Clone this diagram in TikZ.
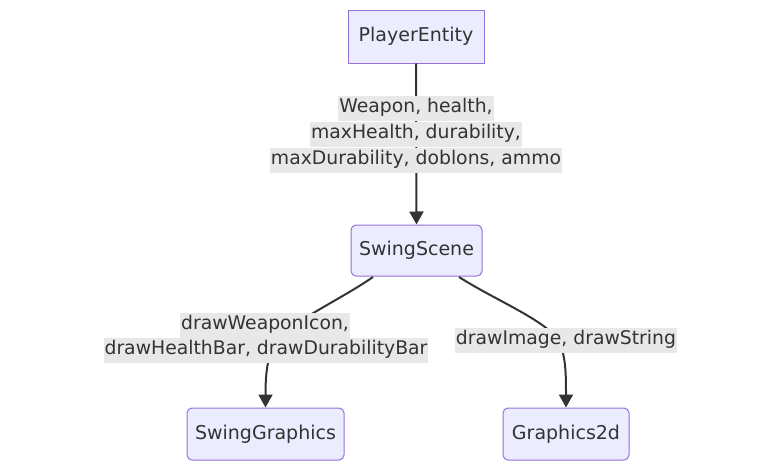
\documentclass[tikz,border=0pt]{standalone}
\usepackage{fontspec}
\setmainfont{DejaVu Sans}
\usetikzlibrary{arrows.meta}
\definecolor{nodefill}{HTML}{ECECFF}
\definecolor{nodeborder}{HTML}{9370DB}
\definecolor{ink}{HTML}{333333}
\definecolor{lblbg}{HTML}{E8E8E8}
\tikzset{
  box/.style={draw=nodeborder, fill=nodefill, line width=1pt, text=ink,
    font=\fontsize{19}{22}\selectfont, inner sep=0pt},
  rbox/.style={box, rounded corners=5pt},
  lbl/.style={fill=lblbg, text=ink, font=\fontsize{18.8}{22}\selectfont,
    inner xsep=1pt, inner ysep=3pt, text height=14pt, text depth=5pt},
  conn/.style={draw=ink, line width=2pt, -{Triangle[length=13pt,width=14pt]}},
}
\begin{document}
\begin{tikzpicture}[x=1pt,y=-1pt]
\useasboundingbox (0,0) rectangle (780,471);
\node[box, minimum width=136pt, minimum height=53pt] (pe) at (416,36.5) {PlayerEntity};
\node[rbox, minimum width=131pt, minimum height=51pt] (ss) at (416.5,250.5) {SwingScene};
\node[rbox, minimum width=157pt, minimum height=52pt] (sg) at (265.5,434) {SwingGraphics};
\node[rbox, minimum width=126pt, minimum height=52pt] (g2) at (566,434) {Graphics2d};

\coordinate (s2) at (373,277);
\coordinate (s3) at (459,277);
\draw[conn] (pe.south) -- (ss.north);
\draw[conn] (s2) .. controls (340,300) and (290,322) .. (276,342) .. controls (267,356) and (265.5,375) .. (sg.north);
\draw[conn] (s3) .. controls (495,300) and (545,320) .. (558,340) .. controls (566,354) and (566,375) .. (g2.north);

\node[lbl] (l1a) at (416,108) {Weapon, health,};
\node[lbl] (l1b) at (416,134) {maxHealth, durability,};
\node[lbl] (l1c) at (416,160) {maxDurability, doblons, ammo};
\node[lbl] (l2a) at (265,325) {drawWeaponIcon,};
\node[lbl] (l2b) at (266,350) {drawHealthBar, drawDurabilityBar};
\node[lbl] (l3) at (566,340) {drawImage, drawString};
\end{tikzpicture}
\end{document}
